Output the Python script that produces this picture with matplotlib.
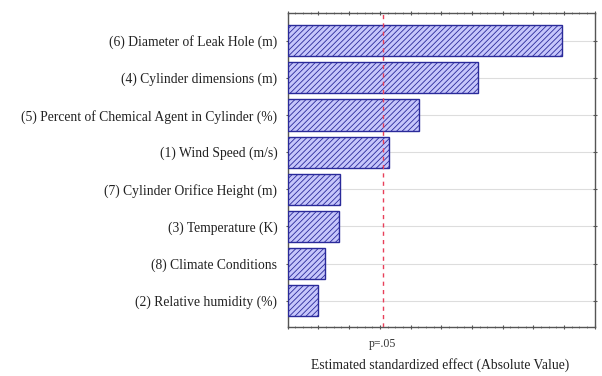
import numpy as np
import matplotlib.pyplot as plt

plt.rcParams['font.family'] = ['Liberation Serif', 'DejaVu Serif']
plt.rcParams['hatch.color'] = '#6e6ee0'
plt.rcParams['hatch.linewidth'] = 0.6

# Факторы (сверху вниз) и их стандартизованные эффекты
factors = [
    '(6) Diameter of Leak Hole (m)',
    '(4) Cylinder dimensions (m)',
    '(5) Percent of Chemical Agent in Cylinder (%)',
    '(1) Wind Speed (m/s)',
    '(7) Cylinder Orifice Height (m)',
    '(3) Temperature (K)',
    '(8) Climate Conditions',
    '(2) Relative humidity (%)',
]
effects = [8.92, 6.19, 4.27, 3.29, 1.69, 1.66, 1.20, 1.00]
p_crit = 3.09

fig = plt.figure(figsize=(6.02, 3.76), dpi=100)
ax = fig.add_axes([0.478, 0.130, 0.510, 0.835])

y = np.arange(len(factors))
ax.barh(y, effects, height=0.84, color='#c6c6fb', edgecolor='#2a2a9a',
        hatch='//////', linewidth=1.0, zorder=3)

ax.axvline(p_crit, color='#e8405a', linestyle=(0, (3, 3)), linewidth=1.0, zorder=4)

ax.set_xlim(0, 10)
ax.set_ylim(7.71, -0.74)
ax.set_yticks(y)
ax.set_yticklabels(factors, fontsize=9.8, color='#222222')
ax.set_xticks(np.arange(0, 11, 1))
ax.set_xticks(np.arange(0, 10.01, 0.25), minor=True)
ax.set_xticklabels([])
ax.tick_params(axis='both', which='major', direction='inout', length=3,
               width=0.8, color='#555555', top=True, right=True, pad=6)
ax.tick_params(axis='x', which='minor', direction='inout', length=2,
               width=0.6, color='#777777', top=True)

ax.grid(axis='y', color='#dddddd', linewidth=0.8, zorder=0)
for s in ax.spines.values():
    s.set_color('#555555')
    s.set_linewidth(1.0)

ax.text(p_crit, -0.035, 'p=.05', transform=ax.get_xaxis_transform(),
        ha='center', va='top', fontsize=8.5, color='#333333')
fig.text(0.731, 0.029, 'Estimated standardized effect (Absolute Value)',
         ha='center', va='center', fontsize=9.8, color='#222222')

plt.savefig('out.png', dpi=100)
